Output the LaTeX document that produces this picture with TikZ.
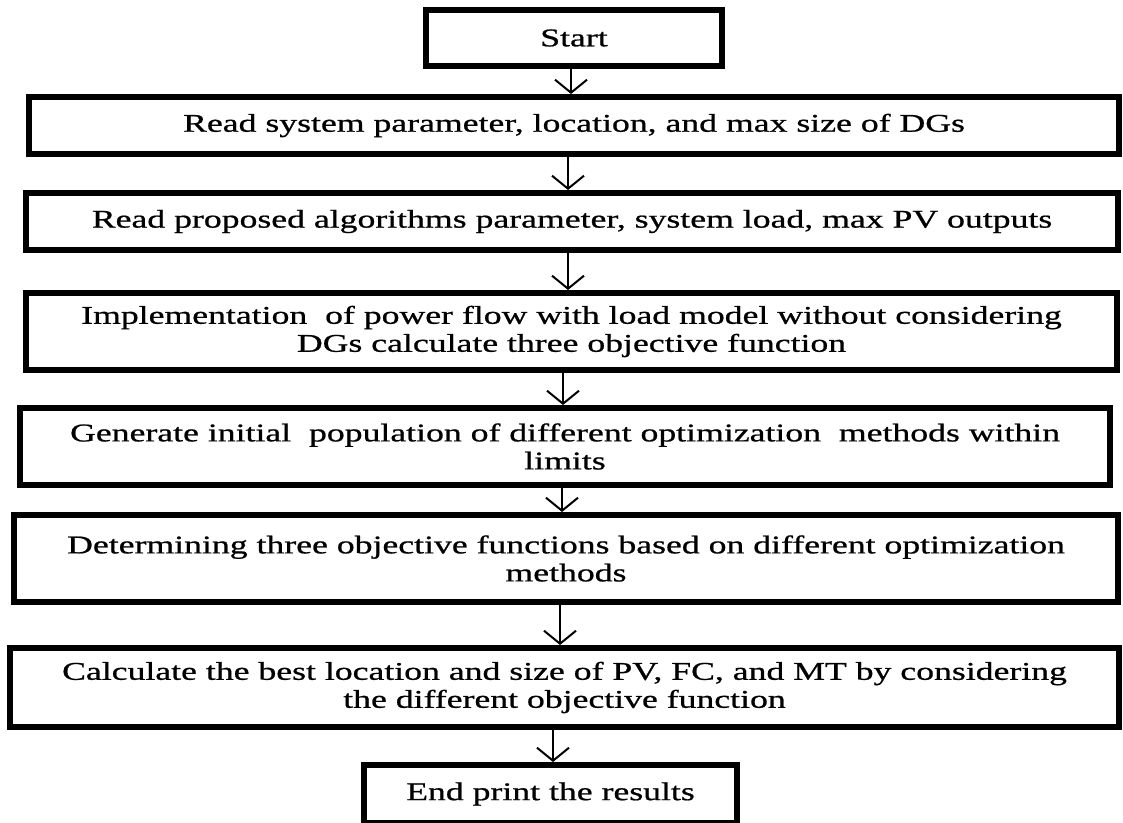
\documentclass[tikz,border=0pt]{standalone}
\usepackage{fontspec}
\setmainfont{Liberation Serif}[FakeStretch=1.4,FakeBold=0.8]
\usetikzlibrary{arrows.meta}
\begin{document}
\begin{tikzpicture}[x=1pt,y=-1pt,
  box/.style={draw, line width=6pt, inner sep=0pt, align=center,
    font=\fontsize{25.5}{28}\selectfont},
  arr/.style={line width=2pt, -{Straight Barb[length=13pt,width=32pt,line width=2pt]}}]
\useasboundingbox (0,0) rectangle (1123,822);
\node[box, minimum width=296pt, minimum height=56pt] (s) at (574,38) {Start};
\node[box, minimum width=1090pt, minimum height=57pt] (b2) at (574,125.5)
  {Read system parameter, location, and max size of DGs};
\node[box, minimum width=1092pt, minimum height=57pt] (b3) at (572,221.5)
  {Read proposed algorithms parameter, system load, max PV outputs};
\node[box, minimum width=1091pt, minimum height=77pt] (b4) at (571.5,331.5)
  {Implementation~ of power flow with load model without considering\\DGs calculate three objective function};
\node[box, minimum width=1090pt, minimum height=77pt] (b5) at (565,446.5)
  {Generate initial~ population of different optimization~ methods within\\limits};
\node[box, minimum width=1104pt, minimum height=87pt] (b6) at (566,558.5)
  {Determining three objective functions based on different optimization\\methods};
\node[box, minimum width=1109pt, minimum height=79pt] (b7) at (564.5,687.5)
  {Calculate the best location and size of PV, FC, and MT by considering\\the different objective function};
\node[box, minimum width=373pt, minimum height=58pt] (e) at (550.5,794)
  {End print the results};
\draw[arr] ([xshift=-3pt]s.south) -- ([xshift=-3pt]s.south |- b2.north);
\draw[arr] ([xshift=-6pt]b2.south) -- ([xshift=-6pt]b2.south |- b3.north);
\draw[arr] ([xshift=-4pt]b3.south) -- ([xshift=-4pt]b3.south |- b4.north);
\draw[arr] ([xshift=-8.5pt]b4.south) -- ([xshift=-8.5pt]b4.south |- b5.north);
\draw[arr] ([xshift=-3pt]b5.south) -- ([xshift=-3pt]b5.south |- b6.north);
\draw[arr] ([xshift=-6pt]b6.south) -- ([xshift=-6pt]b6.south |- b7.north);
\draw[arr] ([xshift=-11.5pt]b7.south) -- ([xshift=-11.5pt]b7.south |- e.north);
\end{tikzpicture}
\end{document}
